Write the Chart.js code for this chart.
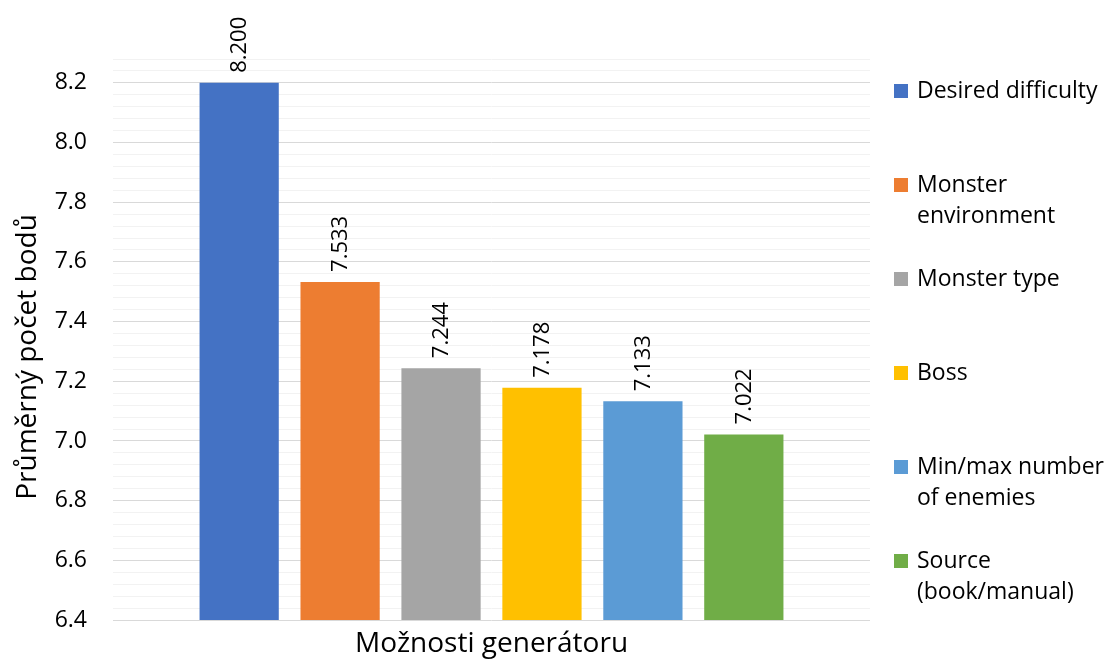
<!DOCTYPE html>
<html>
<head>
<meta charset="utf-8">
<script src="https://cdn.jsdelivr.net/npm/chart.js@4.4.1/dist/chart.umd.min.js"></script>
<style>
  html, body { margin: 0; padding: 0; background: #ffffff; }
  #wrap { width: 1110px; height: 661px; position: relative; }
</style>
</head>
<body>
<div id="wrap"><canvas id="chart" width="1110" height="661"></canvas></div>
<script>
// Average score per generator option
const seriesLines = [
  ['Desired difficulty'],
  ['Monster', 'environment'],
  ['Monster type'],
  ['Boss'],
  ['Min/max number', 'of enemies'],
  ['Source', '(book/manual)']
];
const seriesValues = [8.200, 7.533, 7.244, 7.178, 7.133, 7.022];
const seriesColors = ['#4472C4', '#ED7D31', '#A5A5A5', '#FFC000', '#5B9BD5', '#70AD47'];
const categories = [''];
const yMin = 6.4;
const yMax = 8.28;
const yMinorStep = 0.04;
const yMajorStep = 0.2;
const yTitle = 'Průměrný počet bodů';
const xTitle = 'Možnosti generátoru';

const FONT = '"Open Sans", "DejaVu Sans", sans-serif';

function isMajor(v) {
  const k = Math.round((v - yMin) / yMajorStep);
  return Math.abs(yMin + k * yMajorStep - v) < 1e-6;
}

// Rotated value labels above each bar
const valueLabels = {
  id: 'valueLabels',
  afterDatasetsDraw(chart) {
    const ctx = chart.ctx;
    ctx.save();
    ctx.font = '22px ' + FONT;
    ctx.fillStyle = '#000000';
    ctx.textAlign = 'left';
    ctx.textBaseline = 'middle';
    chart.data.datasets.forEach((ds, i) => {
      const meta = chart.getDatasetMeta(i);
      meta.data.forEach((bar, j) => {
        const v = ds.data[j];
        ctx.save();
        ctx.translate(bar.x + 1, bar.y - 10);
        ctx.rotate(-Math.PI / 2);
        ctx.fillText(v.toFixed(3), 0, 0);
        ctx.restore();
      });
    });
    ctx.restore();
  }
};

// Vertical axis title, placed a little below the plot's middle
const yAxisTitle = {
  id: 'yAxisTitle',
  afterDraw(chart) {
    const ctx = chart.ctx;
    ctx.save();
    ctx.font = '28px ' + FONT;
    ctx.fillStyle = '#000000';
    ctx.textAlign = 'center';
    ctx.textBaseline = 'middle';
    ctx.translate(28, 357);
    ctx.rotate(-Math.PI / 2);
    ctx.fillText(yTitle, 0, 0);
    ctx.restore();
  }
};

// Legend on the right with wrapped labels
const sideLegend = {
  id: 'sideLegend',
  afterDraw(chart) {
    const ctx = chart.ctx;
    const area = chart.chartArea;
    const boxX = area.right + 24;
    const textX = boxX + 23;
    const firstY = 91;
    const gap = 94;
    const lineH = 31;
    const box = 14;
    ctx.save();
    ctx.font = '23px ' + FONT;
    ctx.textAlign = 'left';
    ctx.textBaseline = 'middle';
    chart.data.datasets.forEach((ds, i) => {
      const y = firstY + i * gap;
      ctx.fillStyle = ds.backgroundColor;
      ctx.fillRect(boxX, y - box / 2, box, box);
      ctx.fillStyle = '#000000';
      seriesLines[i].forEach((line, k) => {
        ctx.fillText(line, textX, y + k * lineH);
      });
    });
    ctx.restore();
  }
};

const datasets = seriesLines.map((lines, i) => ({
  label: lines.join(' '),
  data: [seriesValues[i]],
  backgroundColor: seriesColors[i],
  borderWidth: 0,
  categoryPercentage: 0.8,
  barPercentage: 0.785
}));

new Chart(document.getElementById('chart'), {
  type: 'bar',
  data: { labels: categories, datasets },
  options: {
    responsive: false,
    animation: false,
    devicePixelRatio: 1,
    layout: { padding: { top: 59, right: 240, left: 0, bottom: 0 } },
    plugins: {
      legend: { display: false },
      tooltip: { enabled: false }
    },
    scales: {
      x: {
        grid: { display: false, drawTicks: false },
        border: { display: false },
        ticks: { display: false },
        title: {
          display: true,
          text: xTitle,
          color: '#000000',
          font: { family: FONT, size: 28 },
          padding: { top: 0, bottom: 0 }
        },
        afterFit(scale) { scale.height = 41; }
      },
      y: {
        min: yMin,
        max: yMax,
        border: { display: false },
        grid: {
          drawTicks: false,
          lineWidth: 1,
          color: (c) => isMajor(c.tick.value) ? '#d9d9d9' : '#f2f2f2'
        },
        ticks: {
          stepSize: yMinorStep,
          padding: 26,
          color: '#000000',
          font: { family: FONT, size: 23 },
          autoSkip: false,
          callback: (v) => isMajor(v) ? v.toFixed(1) : ''
        },
        title: { display: false },
        afterFit(scale) { scale.width = 113; }
      }
    }
  },
  plugins: [valueLabels, yAxisTitle, sideLegend]
});
</script>
</body>
</html>
